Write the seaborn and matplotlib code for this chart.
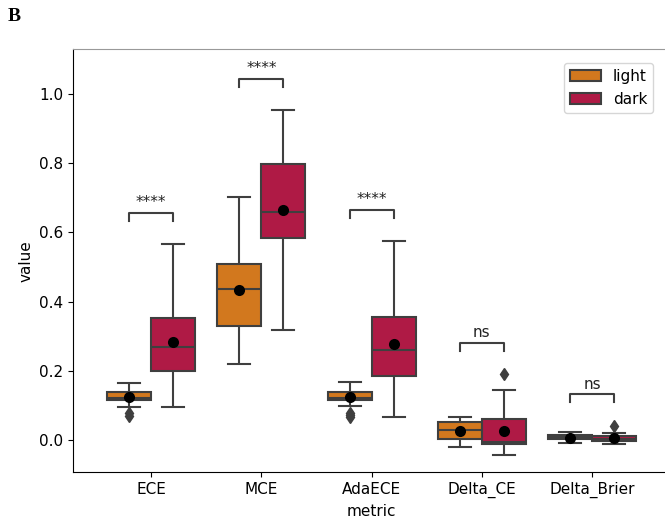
import numpy as np
import pandas as pd
import matplotlib
matplotlib.use("Agg")
import matplotlib.pyplot as plt
import seaborn as sns

# ---- data ----
metrics = ["ECE", "MCE", "AdaECE", "Delta_CE", "Delta_Brier"]
groups = ["light", "dark"]

# five-number summaries per metric, per group
light_q1 = [0.1156, 0.3303, 0.1156, 0.003, 0.002]
light_med = [0.1223, 0.4373, 0.1223, 0.029, 0.0087]
light_q3 = [0.1396, 0.5087, 0.1396, 0.053, 0.0153]
light_lo = [0.0962, 0.2188, 0.0983, -0.019, -0.0078]
light_hi = [0.1656, 0.7014, 0.1667, 0.0665, 0.023]
light_out = [[0.077, 0.070], [], [0.078, 0.073, 0.067], [], []]
light_mean = [0.124, 0.4327, 0.125, 0.026, 0.0067]

dark_q1 = [0.1994, 0.5838, 0.185, -0.0116, -0.0038]
dark_med = [0.2697, 0.659, 0.260, -0.005, 0.0038]
dark_q3 = [0.3535, 0.7977, 0.3564, 0.0616, 0.0107]
dark_lo = [0.0954, 0.3188, 0.0665, -0.0434, -0.0124]
dark_hi = [0.5665, 0.9529, 0.5743, 0.1454, 0.0202]
dark_out = [[], [], [], [0.19], [0.042]]
dark_mean = [0.284, 0.6639, 0.2766, 0.026, 0.0058]

signif = ["****", "****", "****", "ns", "ns"]

colors = {"light": "#D2781E", "dark": "#AF1A45"}
line_col = "#3f3f3f"


# ---- build a table whose box statistics match the summaries ----
def sample(lo, q1, med, q3, hi, out):
    return [lo] + [q1] * 20 + [med] * 21 + [q3] * 20 + [hi] + list(out)


rows = []
summ = {
    "light": (light_lo, light_q1, light_med, light_q3, light_hi, light_out),
    "dark": (dark_lo, dark_q1, dark_med, dark_q3, dark_hi, dark_out),
}
for g in groups:
    lo, q1, med, q3, hi, out = summ[g]
    for i, m in enumerate(metrics):
        for v in sample(lo[i], q1[i], med[i], q3[i], hi[i], out[i]):
            rows.append({"metric": m, "group": g, "value": v})
df = pd.DataFrame(rows)

mean_df = pd.DataFrame(
    [{"metric": m, "group": "light", "value": v} for m, v in zip(metrics, light_mean)]
    + [{"metric": m, "group": "dark", "value": v} for m, v in zip(metrics, dark_mean)]
)

# ---- figure ----
plt.rcParams["font.family"] = ["DejaVu Sans"]
plt.rcParams["font.size"] = 11

fig = plt.figure(figsize=(6.65, 5.23), dpi=100)
ax = fig.add_axes([0.1102, 0.0969, 0.8973, 0.8094])

sns.boxplot(
    data=df, x="metric", y="value", hue="group",
    order=metrics, hue_order=groups, palette=colors, saturation=1,
    linecolor=line_col, linewidth=1.5, width=0.8, gap=0,
    flierprops=dict(marker="d", markersize=6.5, markerfacecolor=line_col,
                    markeredgecolor=line_col),
    ax=ax,
)
sns.stripplot(
    data=mean_df, x="metric", y="value", hue="group",
    order=metrics, hue_order=groups, palette={"light": "black", "dark": "black"},
    dodge=True, jitter=False, size=8, legend=False, ax=ax, zorder=5,
)

# significance brackets
for i, m in enumerate(metrics):
    top = max([light_hi[i], dark_hi[i]] + light_out[i] + dark_out[i])
    y = top + 0.09
    h = 0.023
    x1, x2 = i - 0.2, i + 0.2
    ax.plot([x1, x1, x2, x2], [y - h, y, y, y - h], color=line_col, lw=1.5)
    ax.text(i, y + 0.008, signif[i], ha="center", va="bottom", fontsize=11,
            color="#222222")

ax.set_xlim(-0.705, 4.705)
ax.set_ylim(-0.093, 1.130)
ax.set_yticks([0.0, 0.2, 0.4, 0.6, 0.8, 1.0])
ax.set_xlabel("metric", fontsize=11)
ax.set_ylabel("value", fontsize=11)
ax.tick_params(labelsize=11)
ax.spines["top"].set_color("#999999")
ax.spines["right"].set_visible(False)

sns.move_legend(ax, "upper right", title=None, frameon=True, fontsize=11,
                bbox_to_anchor=(0.985, 0.985))

fig.text(0.012, 0.985, "B", ha="left", va="top", fontsize=14,
         fontweight="bold", family="Liberation Serif")

fig.savefig("out.png", dpi=100)
